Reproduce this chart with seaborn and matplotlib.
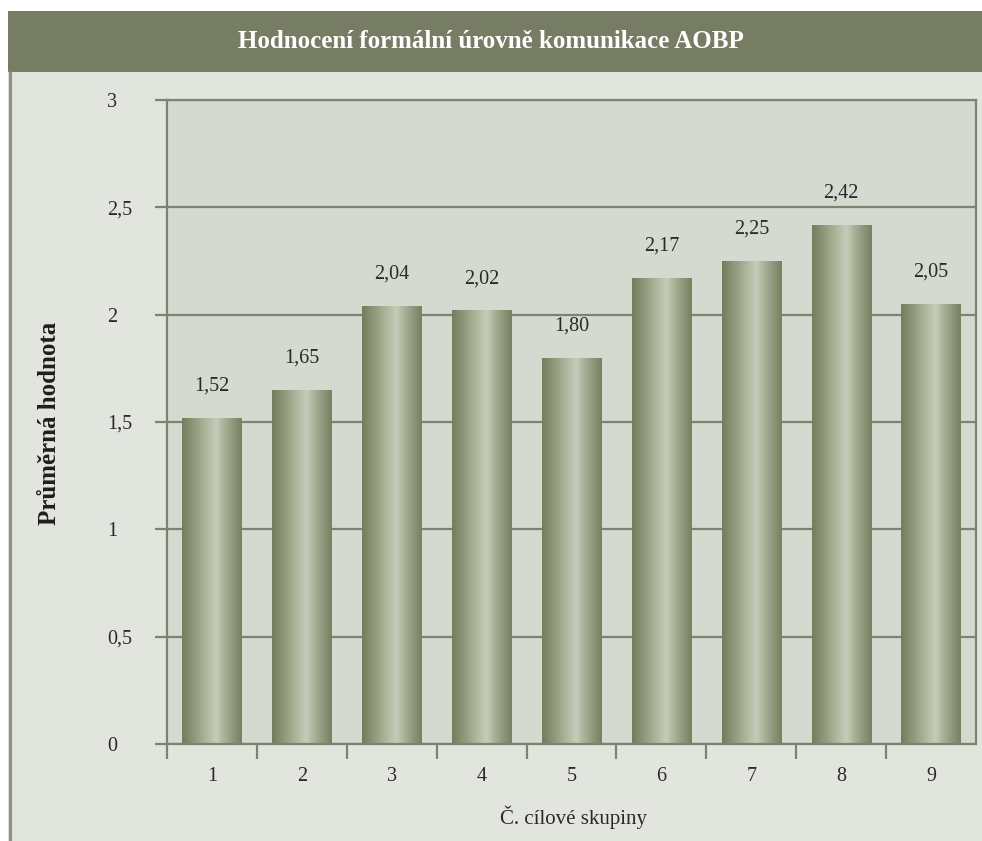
import numpy as np
import pandas as pd
import matplotlib
matplotlib.use("Agg")
import matplotlib.pyplot as plt
from matplotlib.colors import LinearSegmentedColormap
from matplotlib.patches import Rectangle
from matplotlib.lines import Line2D
from matplotlib.ticker import FuncFormatter
import seaborn as sns

# Data
groups = ["1", "2", "3", "4", "5", "6", "7", "8", "9"]
mean_scores = [1.52, 1.65, 2.04, 2.02, 1.80, 2.17, 2.25, 2.42, 2.05]
y_ticks = [0, 0.5, 1, 1.5, 2, 2.5, 3]

title = "Hodnocení formální úrovně komunikace AOBP"
x_title = "Č. cílové skupiny"
y_title = "Průměrná hodnota"

sns.set_theme(style="white")
plt.rcParams["font.family"] = ["Liberation Serif", "DejaVu Serif"]

HEADER = "#777c64"
PANEL = "#e1e5de"
PLOT_BG = "#d4dacf"
LINE = "#7c836e"
TEXT = "#2a2a2a"

W, H = 982, 841
fig = plt.figure(figsize=(W / 100, H / 100), dpi=100)
fig.patch.set_facecolor("white")

# Background panel and header band
fig.add_artist(Rectangle((8 / W, 0), 1 - 8 / W, 1 - 72 / H,
                         transform=fig.transFigure, facecolor=PANEL,
                         edgecolor="none", zorder=0))
fig.add_artist(Rectangle((8 / W, 1 - 72 / H), 1 - 8 / W, 61 / H,
                         transform=fig.transFigure, facecolor=HEADER,
                         edgecolor="none", zorder=0))
fig.add_artist(Line2D([9.5 / W, 9.5 / W], [0, 1 - 72 / H],
                      transform=fig.transFigure, color="#8b9281",
                      lw=2.2, zorder=1))
fig.text(0.5, 1 - 41 / H, title, ha="center", va="center", color="white",
         fontsize=18, fontweight="bold")

# Plot area
ax = fig.add_axes([167 / W, 1 - 744 / H, (976 - 167) / W, (744 - 100) / H])
ax.set_facecolor(PLOT_BG)

df = pd.DataFrame({"group": groups, "score": mean_scores})
sns.barplot(data=df, x="group", y="score", ax=ax, width=0.66,
            color="white", saturation=1, errorbar=None, zorder=2)

# Cylinder-like shading for the bars
shade = LinearSegmentedColormap.from_list(
    "olive_cyl",
    [(0.0, "#737d5d"), (0.22, "#929b7d"), (0.5, "#bcc3ad"),
     (0.58, "#c6ccb9"), (0.68, "#aeb69d"), (0.88, "#8a9376"),
     (1.0, "#77815f")])
grad = np.linspace(0, 1, 256).reshape(1, -1)
for bar in ax.patches:
    x0, y0 = bar.get_x(), bar.get_y()
    w, h = bar.get_width(), bar.get_height()
    bar.set_facecolor("none")
    bar.set_edgecolor("none")
    im = ax.imshow(grad, cmap=shade, aspect="auto", interpolation="bicubic",
                   extent=[x0, x0 + w, y0, y0 + h], zorder=2.5)
    im.set_clip_path(bar)

# Value labels
for i, v in enumerate(mean_scores):
    ax.annotate(f"{v:.2f}".replace(".", ","), (i, v), xytext=(0, 16),
                textcoords="offset points", ha="center", va="bottom",
                fontsize=14.5, color=TEXT)

ax.set_xlim(-0.5, len(groups) - 0.5)
ax.set_ylim(0, 3)

# Gridlines and frame
ax.set_axisbelow(True)
ax.yaxis.grid(True, color=LINE, lw=1.6)
for s in ax.spines.values():
    s.set_color(LINE)
    s.set_linewidth(1.6)
    s.set_visible(True)

# Y axis ticks
ax.set_yticks(y_ticks)
ax.yaxis.set_major_formatter(
    FuncFormatter(lambda v, p: f"{v:g}".replace(".", ",")))
ax.tick_params(axis="y", which="major", direction="out", length=8.6,
               width=1.6, color=LINE, pad=34.5, labelsize=14.5,
               labelcolor=TEXT, left=True)
for t in ax.get_yticklabels():
    t.set_horizontalalignment("left")

# X axis: tick marks between categories, labels at the centres
ax.set_xticks(np.arange(-0.5, len(groups) - 1, 1))
ax.set_xticklabels([])
ax.set_xticks(np.arange(len(groups)), minor=True)
ax.set_xticklabels(groups, minor=True)
ax.tick_params(axis="x", which="major", direction="out", length=11,
               width=1.6, color=LINE, bottom=True)
ax.tick_params(axis="x", which="minor", length=0, pad=16.5,
               labelsize=14.5, labelcolor=TEXT, bottom=True)
ax.set_xlabel("")
ax.set_ylabel("")

fig.text(574 / W, 1 - 817 / H, x_title, ha="center", va="center",
         fontsize=15, color=TEXT)
fig.text(50 / W, 1 - 423 / H, y_title, ha="center", va="center",
         rotation=90, fontsize=18, fontweight="bold", color="#1e1e1e")

fig.savefig("out.png", dpi=100, facecolor=fig.get_facecolor())
